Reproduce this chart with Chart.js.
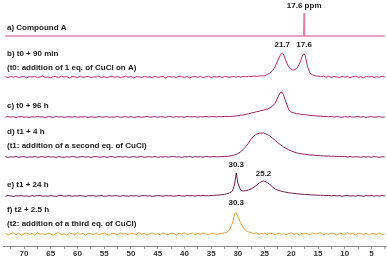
<!DOCTYPE html>
<html><head><meta charset="utf-8">
<script src="https://cdn.jsdelivr.net/npm/chart.js@4"></script>
<style>html,body{margin:0;padding:0;background:#fff}canvas{display:block}</style>
</head><body><canvas id="c" width="387" height="257" style="width:387px;height:257px"></canvas>
<script>
// chemical shift grid (ppm) shared by spectra b-f
const ppmGrid = [73.5,73,72.5,72,71.5,71,70.5,70,69.5,69,68.5,68,67.5,67,66.5,66,65.5,65,64.5,64,63.5,63,62.5,62,61.5,61,60.5,60,59.5,59,58.5,58,57.5,57,56.5,56,55.5,55,54.5,54,53.5,53,52.5,52,51.5,51,50.5,50,49.5,49,48.5,48,47.5,47,46.5,46,45.5,45,44.5,44,43.5,43,42.5,42,41.5,41,40.5,40,39.5,39,38.5,38,37.5,37,36.5,36,35.5,35,34.5,34,33.5,33,32.5,32,31.5,31,
30.6,30.3,30,29.5,29,28.5,28,27.5,27,26.5,26,25.5,25.2,25,24.5,24,23.5,23,22.5,22,21.7,21.5,21,20.5,20,19.5,19,18.5,18,17.8,17.6,17.4,
17,16.5,16,15.5,15,14.5,14,13.5,13,12.5,12,11.5,11,10.5,10,9.5,9,8.5,8,7.5,7,6.5,6,5.5,5,4.5,4,3.5,3,2.5];

// a) Compound A
const ppmA = [73.5, 17.68, 17.6, 17.52, 2.5];
const specA = [0, 0, 23, 0, 0];

// b) t0 + 90 min
const specB = [0.3,-0.5,0.6,-0.2,0.8,-0.7,0.1,0.5,-0.9,0.4,
-0.3,0.7,-0.6,0.2,0.9,-0.4,0.0,-0.8,0.6,0.3,
-0.5,0.7,-0.1,0.4,-0.9,0.5,0.2,-0.6,0.8,-0.3,
0.1,0.6,-0.7,0.3,-0.2,0.9,-0.5,0.4,-0.8,0.2,
0.7,-0.4,0.5,-0.6,0.0,0.8,-0.3,0.6,-0.9,0.4,
0.1,-0.5,0.7,-0.2,0.3,-0.7,0.9,-0.4,0.2,0.5,
-0.8,0.6,-0.1,0.4,-0.6,0.8,0.3,-0.4,0.5,-0.9,
0.2,0.7,-0.3,0.6,-0.5,0.1,0.8,-0.7,0.4,-0.2,
0.6,-0.4,0.5,0.2,-0.3,0.4,
0.3,-0.2,0.5,-0.1,0.6,0.2,0.7,0.4,0.9,0.6,1.0,1.2,1.1,1.5,2.5,4.0,6.5,10.5,17.0,22.5,24.0,23.0,16.0,10.0,7.5,7.0,8.5,13.0,20.0,22.5,23.0,21.5,
11.0,4.0,2.0,1.2,0.8,0.3,0.9,-0.2,0.6,-0.4,0.5,0.1,-0.5,0.7,-0.1,0.4,-0.6,0.3,0.8,-0.3,0.2,-0.7,0.5,0.0,0.6,-0.4,0.3,-0.2,0.7,0.1];

// c) t0 + 96 h
const specC = [-0.2,0.4,-0.1,0.3,-0.5,0.2,0.5,-0.3,0.1,-0.4,
0.3,-0.2,0.6,-0.1,0.2,-0.5,0.4,0.0,-0.3,0.5,
-0.1,0.3,-0.4,0.2,0.1,-0.2,0.5,-0.3,0.3,-0.1,
0.4,-0.5,0.2,0.0,-0.3,0.6,-0.2,0.1,0.4,-0.4,
0.2,-0.1,0.5,-0.3,0.0,0.3,-0.2,0.4,-0.5,0.1,
0.3,-0.3,0.2,0.5,-0.1,0.0,0.4,-0.2,0.3,0.1,
-0.3,0.5,0.2,-0.1,0.4,0.0,0.3,-0.2,0.5,0.2,
0.1,0.4,-0.1,0.3,0.2,0.5,0.1,0.4,0.3,0.2,
0.5,0.3,0.6,0.4,0.5,0.6,
0.8,1.1,1.2,1.8,2.0,2.7,3.2,4.1,4.5,5.3,5.8,6.6,6.8,7.3,7.9,9.3,11.0,14.0,20.0,25.0,24.5,22.5,15.0,7.5,5.0,4.1,3.3,3.1,2.5,2.6,2.3,2.3,
2.0,1.7,1.4,1.2,1.0,0.8,0.6,0.5,0.2,0.6,-0.1,0.4,0.1,-0.3,0.3,0.0,0.4,-0.2,0.2,0.5,-0.1,0.3,-0.4,0.2,0.4,-0.2,0.1,0.3,-0.3,0.2];

// d) t1 + 4 h
const specD = [0.3,-0.4,0.2,-0.1,0.5,-0.3,0.1,0.4,-0.5,0.2,
-0.2,0.6,-0.4,0.1,0.3,-0.3,0.5,-0.1,0.2,-0.5,
0.4,0.0,-0.3,0.3,-0.2,0.5,0.1,-0.4,0.2,0.4,
-0.1,0.3,-0.5,0.2,0.5,-0.2,0.0,0.4,-0.3,0.1,
0.5,-0.4,0.2,0.3,-0.1,0.4,-0.3,0.0,0.5,-0.2,
0.2,0.4,-0.4,0.1,0.3,-0.1,0.5,-0.3,0.2,0.0,
0.4,-0.2,0.3,0.5,-0.1,0.2,-0.4,0.3,0.1,0.5,
-0.2,0.4,0.0,0.3,-0.1,0.5,0.2,0.1,0.4,0.2,
0.2,0.3,0.5,0.7,1.0,1.5,
2.2,2.8,3.5,5.2,7.5,10.5,14.0,18.0,21.0,22.8,23.8,24.0,24.0,23.6,22.5,21.0,18.8,16.5,14.2,12.2,11.0,10.2,8.6,7.2,6.0,5.0,4.2,3.6,3.1,2.9,2.8,2.7,
2.5,2.0,2.0,1.6,1.6,1.2,1.2,0.9,1.0,0.7,0.8,0.5,0.6,0.4,0.5,0.0,0.5,-0.2,0.3,0.1,-0.3,0.4,0.0,0.3,-0.2,0.4,0.1,-0.3,0.2,0.0];

// e) t1 + 24 h
const specE = [-0.3,0.4,0.1,-0.5,0.3,0.0,0.5,-0.2,0.2,-0.4,
0.4,-0.1,0.3,0.5,-0.3,0.1,-0.2,0.4,0.0,-0.4,
0.3,0.5,-0.2,0.1,0.4,-0.3,0.2,-0.1,0.5,0.0,
-0.4,0.3,0.1,0.4,-0.2,0.2,0.5,-0.3,0.0,0.3,
-0.1,0.4,0.2,-0.4,0.5,0.1,-0.2,0.3,0.0,0.4,
-0.3,0.2,0.5,-0.1,0.3,-0.4,0.1,0.4,0.2,-0.2,
0.5,0.0,0.3,-0.3,0.2,0.4,0.1,-0.1,0.5,0.2,
0.3,0.0,0.4,0.2,0.5,0.3,0.2,0.5,0.6,0.8,
1.0,1.3,1.7,2.3,3.2,5.0,
12.0,23.0,13.0,6.0,5.0,5.3,6.0,7.2,8.8,10.8,13.0,14.6,15.0,14.8,13.5,11.5,9.0,7.0,5.8,5.0,4.6,4.3,3.8,3.3,2.9,2.6,2.3,2.0,1.8,1.7,1.6,1.5,
1.4,1.2,1.0,0.9,0.8,0.7,0.6,0.4,0.6,0.2,0.5,0.1,0.4,-0.2,0.3,0.5,0.0,0.3,-0.1,0.4,0.2,-0.3,0.3,0.1,0.5,-0.1,0.3,0.0,0.4,0.2];

// f) t2 + 2.5 h
const specF = [0.8,-1.0,0.4,1.2,-0.6,0.9,-1.3,0.2,1.0,-0.4,
0.6,-1.1,1.4,-0.2,0.3,-0.9,1.1,0.0,-1.2,0.7,
1.3,-0.5,0.2,-1.0,0.9,0.4,-0.7,1.5,-0.3,0.6,
-1.2,0.8,0.1,-0.6,1.2,-0.9,0.5,1.0,-0.4,-1.1,
0.7,0.2,-0.8,1.3,-0.2,0.6,-1.0,0.9,0.3,-0.6,
1.4,-0.3,0.8,-1.2,0.2,1.1,-0.5,0.4,-0.9,1.2,
0.0,-0.7,1.0,0.5,-1.1,0.8,-0.2,1.3,-0.6,0.3,
0.9,-1.0,0.6,-0.3,1.1,0.2,-0.8,0.7,0.4,-0.5,
0.4,0.8,1.0,1.8,5.0,11.0,
20.0,21.5,17.5,11.5,6.5,3.5,2.2,1.5,0.4,1.2,-0.5,0.8,0.2,1.0,-0.6,0.9,0.3,-0.8,1.1,0.2,-0.4,0.7,-1.0,0.5,1.2,-0.3,0.6,-0.9,0.8,0.1,-0.5,0.9,
0.3,-1.0,1.1,-0.2,0.6,1.3,-0.7,0.4,-0.4,1.0,0.0,-1.1,0.8,0.3,-0.6,1.4,-0.2,0.5,-0.9,1.0,0.2,-0.5,0.9,-1.2,0.6,0.1,-0.3,1.1,-0.7,0.4];

const seriesNames = ['a','b','c','d','e','f'];
const xTicks = [72.5,70,67.5,65,62.5,60,57.5,55,52.5,50,47.5,45,42.5,40,37.5,35,32.5,30,27.5,25,22.5,20,17.5,15,12.5,10,7.5,5,2.5];
const xTickLabels = ['','70','','65','','60','','55','','50','','45','','40','','35','','30','','25','','20','','15','','10','','5',''];

// text labels
const sideTexts = ['a) Compound A','b) t0 + 90 min','(t0: addition of 1 eq. of CuCl on A)','c) t0 + 96 h','d) t1 + 4 h','(t1: addition of a second eq. of CuCl)','e) t1 + 24 h','f) t2 + 2.5 h','(t2: addition of a third eq. of CuCl)'];
const sideLevels = [218.3,192.3,178.3,140,114.3,100,61.7,36,22.7];
const peakTexts = ['17.6 ppm','21.7','17.6','30.3','25.2','30.3'];
const peakPpm = [17.6,21.7,17.6,30.3,25.2,30.3];
const peakLevels = [240,201,201,81.7,72.3,43.3];

// layout (stack offsets / styles)
const offsets = [210,169,129,89,50,12];
const colors = ['#e37fae','#c42a6c','#a32262','#8c2058','#6f1d4b','#e6a23c'];
const widths = [1.6,1,1,1,1,1];

function build(xs, vals, off){ return xs.map((x,i)=>({x:x, y:vals[i]+off})); }
const specs = [[ppmA,specA],[ppmGrid,specB],[ppmGrid,specC],[ppmGrid,specD],[ppmGrid,specE],[ppmGrid,specF]];

const textPlugin = {
  id:'texts',
  afterDatasetsDraw(chart){
    const ctx = chart.ctx, xs = chart.scales.x, ys = chart.scales.y;
    ctx.save();
    ctx.fillStyle = '#1a1a1a';
    ctx.font = 'bold 8px "Liberation Sans", Arial, sans-serif';
    ctx.textBaseline = 'middle';
    ctx.textAlign = 'left';
    sideTexts.forEach((t,i)=>ctx.fillText(t, 7, ys.getPixelForValue(sideLevels[i])));
    ctx.textAlign = 'center';
    peakTexts.forEach((t,i)=>ctx.fillText(t, xs.getPixelForValue(peakPpm[i]), ys.getPixelForValue(peakLevels[i])));
    ctx.restore();
  }
};

new Chart(document.getElementById('c'), {
  type:'line',
  data:{ datasets: specs.map((s,i)=>({
    label: seriesNames[i],
    data: build(s[0], s[1], offsets[i]),
    borderColor: colors[i], borderWidth: widths[i],
    pointRadius:0, tension:0, fill:false
  }))},
  options:{
    responsive:false, animation:false,
    layout:{padding:{left:3,right:1,top:0,bottom:0}},
    plugins:{legend:{display:false},tooltip:{enabled:false}},
    scales:{
      x:{type:'linear', reverse:true, min:2.29, max:73.93,
        afterBuildTicks(s){ s.ticks = xTicks.map(v=>({value:v})); },
        afterFit(s){ s.height = 11; },
        grid:{drawOnChartArea:false, drawTicks:true, tickLength:3, color:'#999'},
        border:{display:true, color:'#8a8a8a', width:1},
        ticks:{autoSkip:false, maxRotation:0, padding:0, color:'#333',
          font:{family:'"Liberation Sans", Arial', size:8, weight:'bold'},
          callback(v, idx){ return xTickLabels[idx]; }}
      },
      y:{display:false, min:0, max:246}
    }
  },
  plugins:[textPlugin]
});
</script></body></html>
